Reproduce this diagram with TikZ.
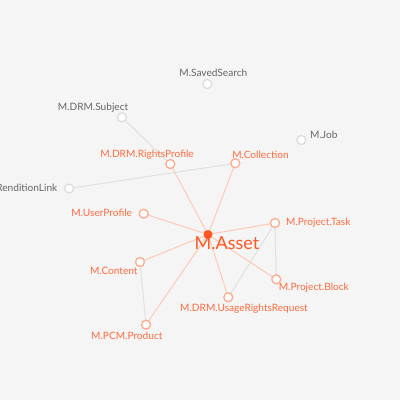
\documentclass[tikz,border=0pt]{standalone}
\usepackage{fontspec}
\setmainfont{Lato}
\definecolor{bg}{HTML}{F5F5F5}
\definecolor{orT}{HTML}{FF6A3D}
\definecolor{orA}{HTML}{FF5722}
\definecolor{orC}{HTML}{FFAA8C}
\definecolor{orE}{HTML}{FFC9B5}
\definecolor{grT}{HTML}{666666}
\definecolor{grC}{HTML}{DDDDDD}
\definecolor{grE}{HTML}{E0E0E0}
\tikzset{
  onode/.style={circle,draw=orC,fill=white,line width=1.3pt,minimum size=9pt,inner sep=0pt},
  gnode/.style={circle,draw=grC,fill=white,line width=1.3pt,minimum size=9pt,inner sep=0pt},
  anode/.style={circle,fill=orA,minimum size=9pt,inner sep=0pt},
  olab/.style={text=orT,font=\fontsize{10.1}{11}\selectfont,inner sep=0pt},
  glab/.style={text=grT,font=\fontsize{10.1}{11}\selectfont,inner sep=0pt},
  oedge/.style={draw=orE,line width=1pt},
  gedge/.style={draw=grE,line width=1pt}
}
\begin{document}
\begin{tikzpicture}[x=1pt,y=-1pt]
\fill[bg] (0,0) rectangle (400,400);
\useasboundingbox (0,0) rectangle (400,400);
% node positions
\coordinate (asset) at (208,234.5);
\coordinate (saved) at (207.3,84);
\coordinate (subj) at (122,117.3);
\coordinate (job) at (301.3,140);
\coordinate (rights) at (170.3,164);
\coordinate (coll) at (235.3,163.3);
\coordinate (rend) at (69,188.5);
\coordinate (user) at (143.7,213.7);
\coordinate (task) at (275,223);
\coordinate (content) at (140,262);
\coordinate (block) at (276.3,279.3);
\coordinate (usage) at (228.3,297.3);
\coordinate (pcm) at (146,324.7);
% edges
\path[gedge] (subj) -- (rights);
\path[gedge] (rend) -- (coll);
\path[gedge] (content) -- (pcm);
\path[gedge] (task) -- (usage);
\path[gedge] (task) -- (block);
\path[oedge] (asset) -- (rights);
\path[oedge] (asset) -- (coll);
\path[oedge] (asset) -- (user);
\path[oedge] (asset) -- (content);
\path[oedge] (asset) -- (pcm);
\path[oedge] (asset) -- (usage);
\path[oedge] (asset) -- (block);
\path[oedge] (asset) -- (task);
% nodes on top
\node[anode] (nasset) at (asset) {};
\node[gnode] (nsaved) at (saved) {};
\node[gnode] (nsubj) at (subj) {};
\node[gnode] (njob) at (job) {};
\node[gnode] (nrend) at (rend) {};
\node[onode] (nrights) at (rights) {};
\node[onode] (ncoll) at (coll) {};
\node[onode] (nuser) at (user) {};
\node[onode] (ntask) at (task) {};
\node[onode] (ncontent) at (content) {};
\node[onode] (nblock) at (block) {};
\node[onode] (nusage) at (usage) {};
\node[onode] (npcm) at (pcm) {};
% labels
\node[glab] (lsaved) at (213.3,73.3) {M.SavedSearch};
\node[glab] (lsubj) at (93,108) {M.DRM.Subject};
\node[glab,anchor=west] (ljob) at (310,135) {M.Job};
\node[olab] (lrights) at (147,154.3) {M.DRM.RightsProfile};
\node[olab] (lcoll) at (260.5,155) {M.Collection};
\node[glab,anchor=east] (lrend) at (57.5,188) {M.RenditionLink};
\node[olab] (luser) at (101.7,213.3) {M.UserProfile};
\node[olab] (ltask) at (318.3,223) {M.Project.Task};
\node[text=orA,font=\fontsize{18}{19}\selectfont,inner sep=0pt] (lasset) at (227,243.3) {M.Asset};
\node[olab] (lcontent) at (113.8,270.7) {M.Content};
\node[olab] (lblock) at (313.8,287.7) {M.Project.Block};
\node[olab] (lusage) at (244,309) {M.DRM.UsageRightsRequest};
\node[olab] (lpcm) at (126.8,335.7) {M.PCM.Product};
\end{tikzpicture}
\end{document}
